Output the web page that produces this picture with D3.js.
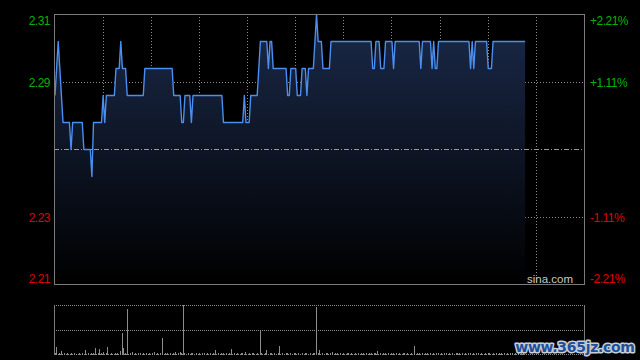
<!DOCTYPE html>
<html>
<head>
<meta charset="utf-8">
<script src="https://cdn.jsdelivr.net/npm/d3@7"></script>
<style>
  html, body { margin: 0; padding: 0; background: #000; }
  #chart { width: 640px; height: 360px; }
</style>
</head>
<body>
<div id="chart"></div>
<script>
// intraday minute chart (HK session, 330 trading minutes), price pane + volume pane

// ---- data ----
const preClose = 2.26;

// one price per minute from 9:30 (minute index = position in array)
const prices = [
  2.28, 2.29, 2.30, 2.29, 2.28, 2.27, 2.27, 2.27, 2.27, 2.27,
  2.26, 2.27, 2.27, 2.27, 2.27, 2.27, 2.27, 2.27, 2.26, 2.26,
  2.26, 2.26, 2.26, 2.25, 2.27, 2.27, 2.27, 2.27, 2.27, 2.27,
  2.28, 2.27, 2.28, 2.28, 2.28, 2.28, 2.28, 2.28, 2.29, 2.29,
  2.29, 2.30, 2.29, 2.29, 2.29, 2.28, 2.28, 2.28, 2.28, 2.28,
  2.28, 2.28, 2.28, 2.28, 2.28, 2.28, 2.29, 2.29, 2.29, 2.29,
  2.29, 2.29, 2.29, 2.29, 2.29, 2.29, 2.29, 2.29, 2.29, 2.29,
  2.29, 2.29, 2.29, 2.29, 2.28, 2.28, 2.28, 2.28, 2.28, 2.27,
  2.27, 2.28, 2.28, 2.28, 2.28, 2.27, 2.28, 2.28, 2.28, 2.28,
  2.28, 2.28, 2.28, 2.28, 2.28, 2.28, 2.28, 2.28, 2.28, 2.28,
  2.28, 2.28, 2.28, 2.28, 2.28, 2.27, 2.27, 2.27, 2.27, 2.27,
  2.27, 2.27, 2.27, 2.27, 2.27, 2.27, 2.27, 2.27, 2.28, 2.27,
  2.27, 2.27, 2.28, 2.28, 2.28, 2.28, 2.28, 2.29, 2.30, 2.30,
  2.30, 2.30, 2.30, 2.29, 2.30, 2.30, 2.29, 2.29, 2.29, 2.29,
  2.29, 2.29, 2.29, 2.29, 2.29, 2.28, 2.28, 2.29, 2.29, 2.29,
  2.29, 2.28, 2.28, 2.28, 2.29, 2.29, 2.29, 2.28, 2.29, 2.29,
  2.29, 2.29, 2.30, 2.31, 2.30, 2.30, 2.30, 2.29, 2.29, 2.29,
  2.29, 2.29, 2.30, 2.30, 2.30, 2.30, 2.30, 2.30, 2.30, 2.30,
  2.30, 2.30, 2.30, 2.30, 2.30, 2.30, 2.30, 2.30, 2.30, 2.30,
  2.30, 2.30, 2.30, 2.30, 2.30, 2.30, 2.30, 2.30, 2.29, 2.29,
  2.30, 2.30, 2.30, 2.29, 2.29, 2.29, 2.30, 2.30, 2.30, 2.30,
  2.30, 2.29, 2.30, 2.30, 2.30, 2.30, 2.30, 2.30, 2.30, 2.30,
  2.30, 2.30, 2.30, 2.30, 2.30, 2.30, 2.30, 2.30, 2.29, 2.30,
  2.30, 2.30, 2.30, 2.30, 2.30, 2.29, 2.30, 2.29, 2.29, 2.30,
  2.30, 2.30, 2.30, 2.30, 2.30, 2.30, 2.30, 2.30, 2.30, 2.30,
  2.30, 2.30, 2.30, 2.30, 2.30, 2.30, 2.30, 2.30, 2.30, 2.29,
  2.30, 2.29, 2.30, 2.30, 2.30, 2.30, 2.30, 2.30, 2.30, 2.30,
  2.29, 2.29, 2.29, 2.30, 2.30, 2.30, 2.30, 2.30, 2.30, 2.30,
  2.30, 2.30, 2.30, 2.30, 2.30, 2.30, 2.30, 2.30, 2.30, 2.30,
  2.30, 2.30, 2.30, 2.30
];

// volume per minute (thousand shares)
const volumes = [
  20, 77, 0, 20, 37, 0, 20, 0, 20, 0,
  17, 0, 20, 0, 0, 20, 0, 20, 0, 47,
  0, 20, 0, 20, 20, 67, 0, 20, 57, 20,
  27, 0, 20, 77, 0, 20, 0, 0, 17, 20,
  0, 37, 217, 67, 20, 457, 0, 20, 27, 0,
  20, 0, 20, 20, 0, 20, 0, 20, 0, 20,
  0, 20, 27, 0, 20, 0, 20, 167, 0, 20,
  20, 0, 20, 0, 17, 27, 0, 20, 27, 20,
  500, 20, 0, 20, 0, 20, 20, 0, 20, 0,
  20, 0, 20, 20, 0, 20, 0, 20, 0, 20,
  47, 0, 20, 0, 20, 20, 0, 20, 0, 20,
  57, 0, 20, 0, 20, 0, 20, 20, 0, 27,
  0, 20, 0, 20, 20, 0, 20, 0, 247, 20,
  0, 20, 47, 0, 20, 20, 0, 20, 0, 20,
  87, 0, 20, 0, 20, 20, 0, 20, 0, 20,
  20, 0, 20, 0, 20, 0, 20, 20, 0, 20,
  0, 20, 20, 480, 20, 47, 0, 20, 0, 20,
  20, 0, 20, 27, 0, 20, 20, 0, 17, 0,
  20, 0, 20, 20, 0, 20, 0, 20, 0, 20,
  0, 20, 17, 0, 20, 0, 20, 20, 0, 20,
  20, 37, 0, 20, 0, 20, 20, 0, 20, 0,
  20, 20, 0, 20, 0, 20, 0, 20, 20, 0,
  20, 0, 20, 0, 87, 0, 20, 20, 0, 20,
  0, 20, 20, 0, 20, 0, 20, 0, 20, 20,
  0, 20, 0, 20, 20, 0, 20, 0, 20, 0,
  20, 20, 17, 0, 20, 0, 20, 0, 20, 20,
  0, 20, 0, 20, 20, 0, 20, 0, 20, 0,
  20, 20, 0, 20, 0, 20, 0, 20, 20, 0,
  20, 0, 20, 0, 20, 20, 0, 20, 0, 20,
  0, 20, 20, 0
];

// axis ticks: price level, left label, right label
const tickValues = [2.31, 2.285, 2.235, 2.21];
const leftLabels = ["2.31", "2.29", "2.23", "2.21"];
const rightLabels = ["+2.21%", "+1.11%", "-1.11%", "-2.21%"];
const totalMinutes = 330;
const gridMinutes = [30, 60, 90, 120, 150, 180, 210, 240, 270, 300];
const volMax = 500;

// ---- layout ----
const W = 640, H = 360;
const plotL = 54, plotR = 584;
const plotT = 14, plotB = 284;
const volTop = 305, volBottom = 355;

const svg = d3.select("#chart")
  .append("svg")
  .attr("width", W)
  .attr("height", H)
  .style("display", "block")
  .style("background", "#000");

const x = d3.scaleLinear().domain([0, totalMinutes]).range([plotL + 1, plotR + 0.5]);
const y = d3.scaleLinear().domain([preClose - 0.05, preClose + 0.05]).range([plotB + 0.5, plotT + 0.5]);
const yv = d3.scaleLinear().domain([0, volMax]).range([volBottom, volTop]);

const crisp = (v) => Math.floor(v) + 0.5;

// gradient under the price line
const defs = svg.append("defs");
const grad = defs.append("linearGradient")
  .attr("id", "areaGrad")
  .attr("gradientUnits", "userSpaceOnUse")
  .attr("x1", 0).attr("x2", 0)
  .attr("y1", plotT).attr("y2", plotB);
grad.append("stop").attr("offset", 0).attr("stop-color", "#1b2a4a");
grad.append("stop").attr("offset", 1).attr("stop-color", "#000000");

// ---- price pane grid ----
const grid = svg.append("g").attr("class", "grid");

grid.selectAll("line.vgrid")
  .data(gridMinutes)
  .enter()
  .append("line")
  .attr("class", "vgrid")
  .attr("x1", (d) => crisp(x(d)))
  .attr("x2", (d) => crisp(x(d)))
  .attr("y1", plotT)
  .attr("y2", plotB)
  .attr("stroke", "#8a8a8a")
  .attr("stroke-dasharray", "1 2");

grid.selectAll("line.hgrid")
  .data([tickValues[1], tickValues[2]])
  .enter()
  .append("line")
  .attr("class", "hgrid")
  .attr("x1", plotL)
  .attr("x2", plotR)
  .attr("y1", (d) => Math.round(y(d)) + 0.5)
  .attr("y2", (d) => Math.round(y(d)) + 0.5)
  .attr("stroke", "#8a8a8a")
  .attr("stroke-dasharray", "1 2");

// area + line
const data = prices.map((p, i) => ({ m: i, p: p }));

svg.append("path")
  .datum(data)
  .attr("fill", "url(#areaGrad)")
  .attr("d", d3.area()
    .x((d) => x(d.m))
    .y0(plotB)
    .y1((d) => y(d.p)));

// pre-close reference line (dash-dot), drawn over the area
svg.append("line")
  .attr("x1", plotL)
  .attr("x2", plotR)
  .attr("y1", Math.round(y(preClose)) - 0.5)
  .attr("y2", Math.round(y(preClose)) - 0.5)
  .attr("stroke", "#9a9a9a")
  .attr("stroke-dasharray", "5 2 1 2");

svg.append("path")
  .datum(data)
  .attr("fill", "none")
  .attr("stroke", "#4a8ef0")
  .attr("stroke-width", 1.4)
  .attr("stroke-linejoin", "round")
  .attr("d", d3.line()
    .x((d) => x(d.m))
    .y((d) => y(d.p)));

// frame
svg.append("rect")
  .attr("x", plotL + 0.5)
  .attr("y", plotT + 0.5)
  .attr("width", plotR - plotL)
  .attr("height", plotB - plotT)
  .attr("fill", "none")
  .attr("stroke", "#7a7a7a");

// axis labels
const labelFont = "'Liberation Sans', Arial, sans-serif";
const labelY = (v) => Math.max(plotT + 11, Math.min(plotB - 1, y(v) + 4.5));
const labelColor = (i) => (i < 2 ? "#00b400" : "#e00000");

svg.selectAll("text.lab-left")
  .data(tickValues)
  .enter()
  .append("text")
  .attr("class", "lab-left")
  .attr("x", plotL - 4)
  .attr("y", (d) => labelY(d))
  .attr("text-anchor", "end")
  .attr("fill", (d, i) => labelColor(i))
  .style("font-family", labelFont)
  .style("font-size", "12px")
  .style("letter-spacing", "-0.5px")
  .text((d, i) => leftLabels[i]);

svg.selectAll("text.lab-right")
  .data(tickValues)
  .enter()
  .append("text")
  .attr("class", "lab-right")
  .attr("x", plotR + 6)
  .attr("y", (d) => labelY(d))
  .attr("fill", (d, i) => labelColor(i))
  .style("font-family", labelFont)
  .style("font-size", "12px")
  .style("letter-spacing", "-0.5px")
  .text((d, i) => rightLabels[i]);

// source mark
svg.append("text")
  .attr("x", 573)
  .attr("y", 283)
  .attr("text-anchor", "end")
  .attr("fill", "#c8c8c8")
  .style("font-family", labelFont)
  .style("font-size", "11.5px")
  .text("sina.com");

// ---- volume pane ----
const vol = svg.append("g").attr("class", "vol");

vol.selectAll("line.vh")
  .data([volTop, (volTop + volBottom) / 2, volBottom - 1])
  .enter()
  .append("line")
  .attr("class", "vh")
  .attr("x1", plotL)
  .attr("x2", plotR)
  .attr("y1", (d) => Math.floor(d) + 0.5)
  .attr("y2", (d) => Math.floor(d) + 0.5)
  .attr("stroke", "#8a8a8a")
  .attr("stroke-dasharray", "1 1");

[plotL, plotR].forEach((xx) => {
  vol.append("line")
    .attr("x1", xx + 0.5)
    .attr("x2", xx + 0.5)
    .attr("y1", volTop)
    .attr("y2", volBottom)
    .attr("stroke", "#7a7a7a");
});

vol.selectAll("line.bar")
  .data(volumes.map((v, i) => ({ m: i, v: v })).filter((d) => d.v > 0))
  .enter()
  .append("line")
  .attr("class", "bar")
  .attr("x1", (d) => crisp(x(d.m)))
  .attr("x2", (d) => crisp(x(d.m)))
  .attr("y1", volBottom)
  .attr("y2", (d) => Math.round(yv(d.v)))
  .attr("stroke", "#8c8c8c");

// site watermark
svg.append("text")
  .attr("x", 575)
  .attr("y", 352)
  .attr("text-anchor", "middle")
  .attr("fill", "#1f4f9c")
  .attr("stroke", "#c9cdd4")
  .attr("stroke-width", 3)
  .attr("stroke-linejoin", "round")
  .style("paint-order", "stroke")
  .style("font-family", "'DejaVu Sans', sans-serif")
  .style("font-weight", "bold")
  .style("font-size", "14px")
  .style("letter-spacing", "-0.3px")
  .text("www.365jz.com");
</script>
</body>
</html>
